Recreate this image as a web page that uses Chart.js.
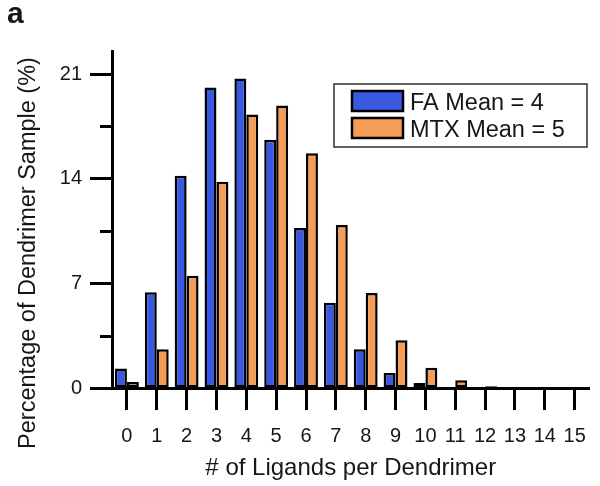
<!DOCTYPE html>
<html>
<head>
<meta charset="utf-8">
<script src="https://cdn.jsdelivr.net/npm/chart.js@4/dist/chart.umd.min.js"></script>
<style>
  html, body { margin: 0; padding: 0; background: #ffffff; }
  #wrap { width: 600px; height: 486px; }
</style>
</head>
<body>
<div id="wrap"><canvas id="chart" width="600" height="486"></canvas></div>
<script>
// Number of ligands attached per dendrimer
const ligandCounts = ['0','1','2','3','4','5','6','7','8','9','10','11','12','13','14','15'];
// Share of the dendrimer sample (%) for each ligand count
const faPercent  = [1.3, 6.4, 14.2, 20.1, 20.7, 16.6, 10.7, 5.7, 2.6, 1.0, 0.33, 0.05, 0.02, 0, 0, 0];
const mtxPercent = [0.4, 2.6, 7.5, 13.8, 18.3, 18.9, 15.7, 10.9, 6.35, 3.2, 1.35, 0.52, 0.12, 0.03, 0, 0];
const seriesLabels = ['FA Mean = 4', 'MTX Mean = 5'];
// Labelled and unlabelled y-axis ticks
const yMajorTicks = [0, 7, 14, 21];
const yMinorTicks = [3.5, 10.5, 17.5];

const FONT = "'Liberation Sans', Arial, sans-serif";
const INK = '#161616';

// Minor y ticks, y-axis title, panel letter and the boxed legend
const decorations = {
  id: 'decorations',
  afterDraw(chart) {
    const { ctx, scales: { y } } = chart;
    ctx.save();

    ctx.strokeStyle = '#000';
    ctx.lineWidth = 3;
    yMinorTicks.forEach(v => {
      const py = Math.round(y.getPixelForValue(v)) + 0.5;
      ctx.beginPath();
      ctx.moveTo(y.right - 12, py);
      ctx.lineTo(y.right, py);
      ctx.stroke();
    });

    ctx.fillStyle = INK;
    ctx.font = `23.5px ${FONT}`;
    ctx.textAlign = 'center';
    ctx.textBaseline = 'alphabetic';
    ctx.save();
    ctx.translate(35, 253);
    ctx.rotate(-Math.PI / 2);
    ctx.fillText('Percentage of Dendrimer Sample (%)', 0, 0);
    ctx.restore();

    ctx.font = `bold 30px ${FONT}`;
    ctx.textAlign = 'left';
    ctx.fillText('a', 7, 23);

    // legend
    const lx = 334, ly = 84, lw = 253, lh = 63;
    ctx.fillStyle = '#fff';
    ctx.fillRect(lx, ly, lw, lh);
    ctx.strokeStyle = '#333';
    ctx.lineWidth = 1.5;
    ctx.strokeRect(lx, ly, lw, lh);
    chart.data.datasets.forEach((ds, i) => {
      const sy = 91 + i * 27;
      ctx.fillStyle = ds.backgroundColor;
      ctx.fillRect(352, sy, 51, 20);
      ctx.strokeStyle = '#000';
      ctx.lineWidth = 2.5;
      ctx.strokeRect(352, sy, 51, 20);
      ctx.fillStyle = INK;
      ctx.font = `23.5px ${FONT}`;
      ctx.textAlign = 'left';
      ctx.fillText(ds.label, 410, sy + 19);
    });

    ctx.restore();
  }
};

new Chart(document.getElementById('chart'), {
  type: 'bar',
  data: {
    labels: ligandCounts,
    datasets: [
      {
        label: seriesLabels[0],
        data: faPercent,
        backgroundColor: '#3A59E3',
        borderColor: '#000',
        borderWidth: 2.5,
        borderSkipped: false
      },
      {
        label: seriesLabels[1],
        data: mtxPercent,
        backgroundColor: '#F59C57',
        borderColor: '#000',
        borderWidth: 2.5,
        borderSkipped: false
      }
    ]
  },
  options: {
    responsive: false,
    animation: false,
    devicePixelRatio: 1,
    layout: { padding: { left: 0, top: 51, right: 8, bottom: 0 } },
    datasets: { bar: { categoryPercentage: 0.8, barPercentage: 1.0 } },
    plugins: {
      legend: { display: false },
      tooltip: { enabled: false }
    },
    scales: {
      x: {
        type: 'category',
        offset: true,
        afterFit: s => { s.height = 98; },
        grid: {
          offset: false,
          drawOnChartArea: false,
          drawTicks: true,
          tickLength: 22,
          tickWidth: 3,
          tickColor: '#000'
        },
        border: { display: true, color: '#000', width: 3 },
        ticks: {
          color: INK,
          font: { family: FONT, size: 20 },
          padding: 14,
          maxRotation: 0,
          autoSkip: false
        },
        title: {
          display: true,
          text: '# of Ligands per Dendrimer',
          color: INK,
          font: { family: FONT, size: 24 },
          padding: { top: 0, bottom: 3 }
        }
      },
      y: {
        min: 0,
        max: 22.54,
        afterFit: s => { s.width = 112; },
        afterBuildTicks: s => { s.ticks = yMajorTicks.map(v => ({ value: v })); },
        grid: {
          drawOnChartArea: false,
          drawTicks: true,
          tickLength: 22,
          tickWidth: 3,
          tickColor: '#000'
        },
        border: { display: true, color: '#000', width: 3 },
        ticks: {
          color: INK,
          font: { family: FONT, size: 20 },
          padding: 8
        }
      }
    }
  },
  plugins: [decorations]
});
</script>
</body>
</html>
